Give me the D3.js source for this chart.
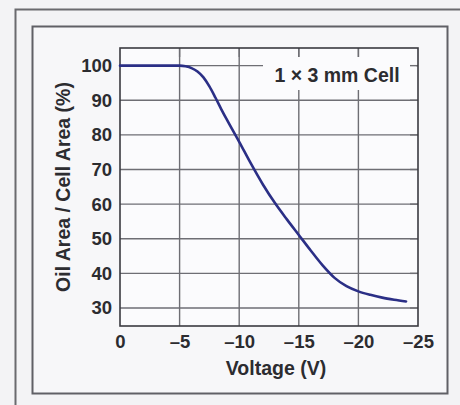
<!DOCTYPE html>
<html><head><meta charset="utf-8">
<script src="https://cdn.jsdelivr.net/npm/d3@7"></script>
<style>body{margin:0;background:#f3f3f5;}svg{display:block;}</style>
</head><body>
<svg id="c" width="460" height="405"></svg>
<script>
const voltage = [0, -2, -4, -5, -5.5, -6, -6.5, -7, -7.5, -8, -8.5, -9, -10, -11, -12, -13, -14, -15, -16, -17, -18, -19, -20, -21, -22, -23, -24];
const oilRatio = [100, 100, 100, 100, 99.8, 99.3, 98.3, 96.6, 94.0, 90.8, 87.4, 84.2, 78.0, 71.6, 65.6, 60.3, 55.6, 51.1, 46.6, 42.3, 38.7, 36.3, 34.8, 33.8, 33.0, 32.4, 31.9];
const xTicks = [0, -5, -10, -15, -20, -25];
const yTicks = [30, 40, 50, 60, 70, 80, 90, 100];
const label = "1 \u00d7 3 mm Cell";

const svg = d3.select("#c");
const L = 120, R = 418, T = 48, B = 326;
const x = d3.scaleLinear().domain([0, -25]).range([L, R]);
const y = d3.scaleLinear().domain([24.8, 105.1]).range([B, T]);
const font = "'Liberation Sans', Arial, sans-serif";
const ink = "#2c2c30";

svg.append("rect").attr("x", 0).attr("y", 0).attr("width", 460).attr("height", 405).attr("fill", "#f3f3f5");
svg.append("path").attr("d", "M15.5,405 V9.5 H460").attr("fill", "none").attr("stroke", "#6a6a6e").attr("stroke-width", 2);
svg.append("rect").attr("x", 32.5).attr("y", 26.5).attr("width", 415).attr("height", 367)
  .attr("fill", "#f7f7f9").attr("stroke", "#606066").attr("stroke-width", 2);

svg.append("rect").attr("x", L).attr("y", T).attr("width", R - L).attr("height", B - T).attr("fill", "#fbfbfd");

const g = svg.append("g");
g.selectAll(".vg").data(xTicks.slice(1, -1)).join("line")
  .attr("x1", d => x(d)).attr("x2", d => x(d)).attr("y1", T).attr("y2", B)
  .attr("stroke", "#6e6e74").attr("stroke-width", 1.4);
g.selectAll(".hg").data(yTicks).join("line")
  .attr("x1", L).attr("x2", R).attr("y1", d => y(d)).attr("y2", d => y(d))
  .attr("stroke", "#6e6e74").attr("stroke-width", 1.4);

svg.append("rect").attr("x", 263).attr("y", 57).attr("width", 153).attr("height", 33).attr("fill", "#fbfbfd");
svg.selectAll(".ts").data(xTicks.slice(1, -1)).join("line")
  .attr("x1", d => x(d)).attr("x2", d => x(d)).attr("y1", T).attr("y2", T + 9)
  .attr("stroke", "#6e6e74").attr("stroke-width", 1.4);
svg.selectAll(".rs").data(yTicks).join("line")
  .attr("x1", R - 8).attr("x2", R).attr("y1", d => y(d)).attr("y2", d => y(d))
  .attr("stroke", "#6e6e74").attr("stroke-width", 1.4);
svg.append("text").attr("x", 337).attr("y", 82).attr("text-anchor", "middle")
  .attr("font-family", font).attr("font-weight", "bold").attr("font-size", 19.5).attr("fill", ink).text(label);

svg.append("rect").attr("x", L).attr("y", T).attr("width", R - L).attr("height", B - T)
  .attr("fill", "none").attr("stroke", "#3a3a40").attr("stroke-width", 1.6);

const line = d3.line().x((d, i) => x(voltage[i])).y(d => y(d)).curve(d3.curveMonotoneX);
svg.append("path").datum(oilRatio).attr("d", line).attr("fill", "none")
  .attr("stroke", "#2b2f86").attr("stroke-width", 2.6).attr("stroke-linecap", "round");

const xa = d3.axisBottom(x).tickValues(xTicks).tickSize(0).tickPadding(9).tickFormat(d => d === 0 ? "0" : "\u2013" + Math.abs(d));
const xg = svg.append("g").attr("transform", `translate(0,${B})`).call(xa);
xg.select(".domain").remove();
xg.selectAll("text").attr("font-family", font).attr("font-weight", "bold").attr("font-size", 18.5).attr("fill", ink);

const ya = d3.axisLeft(y).tickValues(yTicks).tickSize(0).tickPadding(8);
const yg = svg.append("g").attr("transform", `translate(${L},0)`).call(ya);
yg.select(".domain").remove();
yg.selectAll("text").attr("font-family", font).attr("font-weight", "bold").attr("font-size", 18.5).attr("fill", ink);

svg.append("text").attr("x", 276).attr("y", 375).attr("text-anchor", "middle")
  .attr("font-family", font).attr("font-weight", "bold").attr("font-size", 19.5).attr("fill", ink).text("Voltage (V)");
svg.append("text").attr("transform", "translate(70,187) rotate(-90)").attr("text-anchor", "middle")
  .attr("font-family", font).attr("font-weight", "bold").attr("font-size", 19.5).attr("fill", ink).text("Oil Area / Cell Area (%)");
</script>
</body></html>
